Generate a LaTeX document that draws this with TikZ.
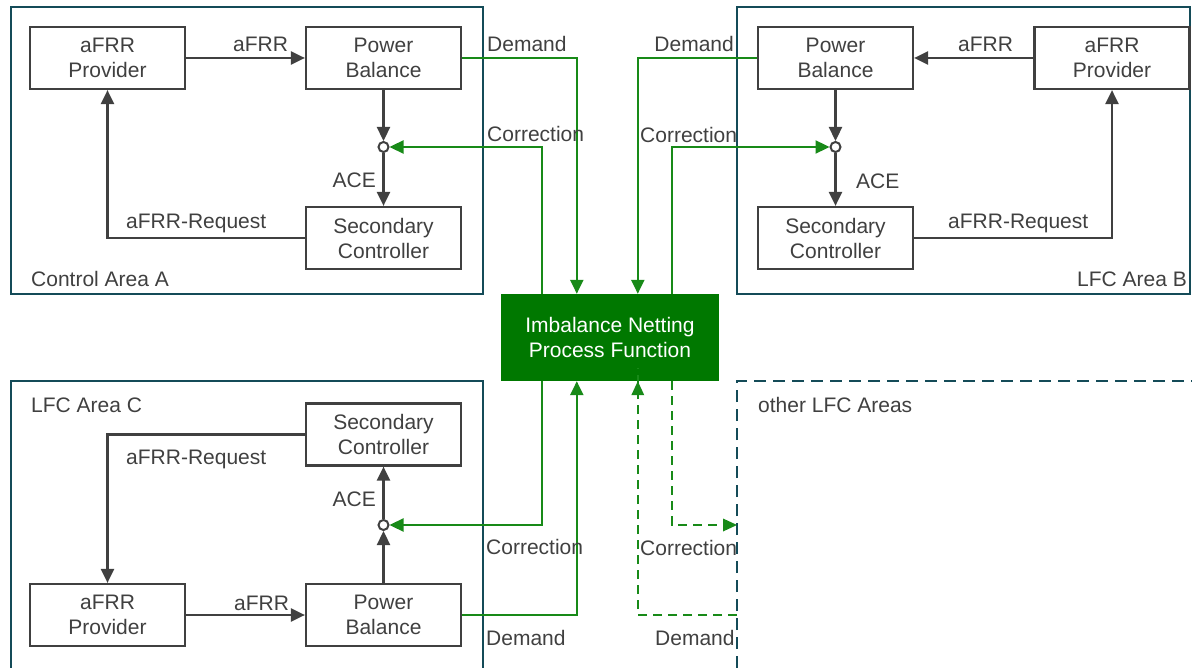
\documentclass[tikz,border=0pt]{standalone}
\usepackage{fontspec}
\setmainfont{Liberation Sans}
\usetikzlibrary{arrows.meta}
\definecolor{teal}{RGB}{20,75,88}
\definecolor{gline}{RGB}{24,138,24}
\definecolor{gfill}{RGB}{0,120,0}
\definecolor{dgray}{RGB}{64,64,64}
\tikzset{
  blk/.style={draw=dgray, line width=2.2pt, fill=white, minimum width=155pt, minimum height=62pt, align=center, text=dgray, inner sep=0pt},
  junc/.style={circle, draw=dgray, fill=white, line width=2pt, minimum size=10pt, inner sep=0pt},
  arr/.style={draw=dgray, line width=2.3pt, -{Triangle[length=14pt,width=13pt]}},
  garr/.style={draw=gline, line width=2.3pt, -{Triangle[length=14pt,width=13pt]}},
  gdash/.style={draw=gline, line width=2.3pt, dash pattern=on 9pt off 6pt},
  area/.style={draw=teal, line width=2.2pt},
  lbl/.style={text=dgray, inner sep=0pt},
}
\begin{document}
\begin{tikzpicture}[x=1pt,y=-1pt,font=\fontsize{21}{25}\selectfont]
\useasboundingbox (0,0) rectangle (1192,668);
% area frames
\draw[area] (11,7) rectangle (483,294);
\draw[area] (737,7) rectangle (1190,294);
\draw[area] (11,668) -- (11,381) -- (483,381) -- (483,668);
\draw[area, dash pattern=on 12pt off 7pt] (737,668) -- (737,381) -- (1192,381);

% Area A
\node[blk] (provA) at (107.5,58) {aFRR\\Provider};
\node[blk] (pbA) at (383.5,58) {Power\\Balance};
\node[blk] (scA) at (383.5,238) {Secondary\\Controller};
\node[junc] (jA) at (383.5,147) {};
% Area B
\node[blk] (pbB) at (835.5,58) {Power\\Balance};
\node[blk] (provB) at (1112,58) {aFRR\\Provider};
\node[blk] (scB) at (835.5,238) {Secondary\\Controller};
\node[junc] (jB) at (835.5,147) {};
% Area C
\node[blk] (scC) at (383.5,434.5) {Secondary\\Controller};
\node[blk] (pbC) at (383.5,615) {Power\\Balance};
\node[blk] (provC) at (107.5,615) {aFRR\\Provider};
\node[junc] (jC) at (383.5,525) {};
% INPF
\node[fill=gfill, text=white, minimum width=218pt, minimum height=87pt, align=center, inner sep=0pt] (inpf) at (610,337.5) {Imbalance Netting\\Process Function};

% black arrows
\draw[arr] (provA.east) -- (pbA.west);
\draw[arr] (pbA.south) -- (jA.north);
\draw[arr] (jA.south) -- (scA.north);
\draw[arr] (scA.west) -| (provA.south);

\draw[arr] (provB.west) -- (pbB.east);
\draw[arr] (pbB.south) -- (jB.north);
\draw[arr] (jB.south) -- (scB.north);
\draw[arr] (scB.east) -| (provB.south);

\draw[arr] (provC.east) -- (pbC.west);
\draw[arr] (pbC.north) -- (jC.south);
\draw[arr] (jC.north) -- (scC.south);
\draw[arr] (scC.west) -| (provC.north);

% green connectors
\draw[garr] (pbA.east) -| ([xshift=76pt]inpf.north west);
\draw[garr] ([xshift=41pt]inpf.north west) |- (jA.east);
\draw[garr] (pbB.west) -| ([xshift=137pt]inpf.north west);
\draw[garr] ([xshift=171pt]inpf.north west) |- (jB.west);
\draw[garr] ([xshift=41pt]inpf.south west) |- (jC.east);
\draw[garr] (pbC.east) -| ([xshift=76pt]inpf.south west);

\coordinate (oc) at (737,525);
\coordinate (od) at (737,615);
\draw[gdash] ([xshift=171pt]inpf.south west) |- ([xshift=-13pt]oc);
\fill[gline] (oc) -- ++(-14,-6.5) -- ++(0,13) -- cycle;
\draw[gdash] (od) -| ([xshift=137pt,yshift=13pt]inpf.south west);
\fill[gline] ([xshift=137pt]inpf.south west) -- ++(-6.5,14) -- ++(13,0) -- cycle;

% labels A
\node[lbl, anchor=base west] (lA1) at (233,52) {aFRR};
\node[lbl, anchor=base west] (lA2) at (487,52) {Demand};
\node[lbl, anchor=base west] (lA3) at (487,142) {Correction};
\node[lbl, anchor=base east] (lA4) at (376,188) {ACE};
\node[lbl, anchor=base west] (lA5) at (126,229) {aFRR-Request};
\node[lbl, anchor=base west] (lA6) at (31,287) {Control Area A};
% labels B
\node[lbl, anchor=base east] (lB1) at (734,52) {Demand};
\node[lbl, anchor=base west] (lB2) at (958,52) {aFRR};
\node[lbl, anchor=base west] (lB3) at (640,143) {Correction};
\node[lbl, anchor=base west] (lB4) at (856,189) {ACE};
\node[lbl, anchor=base west] (lB5) at (948,229) {aFRR-Request};
\node[lbl, anchor=base east] (lB6) at (1187,287) {LFC Area B};
% labels C
\node[lbl, anchor=base west] (lC1) at (31,413) {LFC Area C};
\node[lbl, anchor=base west] (lC2) at (126,464) {aFRR-Request};
\node[lbl, anchor=base east] (lC3) at (376,506) {ACE};
\node[lbl, anchor=base west] (lC4) at (486,554) {Correction};
\node[lbl, anchor=base west] (lC5) at (486,645) {Demand};
\node[lbl, anchor=base west] (lC6) at (234,610) {aFRR};
% labels other
\node[lbl, anchor=base west] (lO1) at (758,412) {other LFC Areas};
\node[lbl, anchor=base west] (lO2) at (640,555) {Correction};
\node[lbl, anchor=base west] (lO3) at (655,645) {Demand};
\end{tikzpicture}
\end{document}
